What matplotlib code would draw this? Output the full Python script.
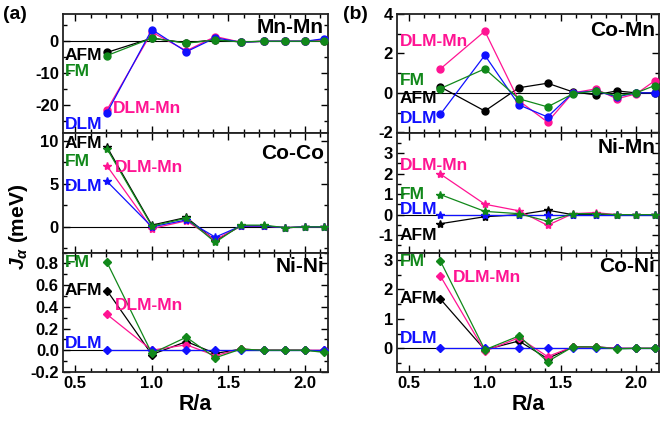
import numpy as np
import matplotlib
matplotlib.use('Agg')
import matplotlib.pyplot as plt
from matplotlib.ticker import MultipleLocator, FormatStrFormatter

plt.rcParams['font.family'] = ['Liberation Sans', 'DejaVu Sans']
plt.rcParams['font.weight'] = 'bold'
plt.rcParams['axes.unicode_minus'] = False
plt.rcParams['mathtext.fontset'] = 'custom'
plt.rcParams['mathtext.it'] = 'Liberation Sans:italic:bold'
plt.rcParams['mathtext.rm'] = 'Liberation Sans:bold'

# shell distances R/a
r = [0.707, 1.0, 1.225, 1.414, 1.581, 1.732, 1.871, 2.0, 2.121]

# J values (meV) per pair and configuration
mnmn_afm = [-3.5, 1.0, -0.5, 0.5, -0.2, 0.0, 0.0, 0.0, 0.0]
mnmn_fm = [-4.5, 1.0, -0.6, 0.4, -0.2, 0.0, 0.0, 0.0, 0.0]
mnmn_dlmmn = [-21.6, 2.9, -3.0, 1.5, -0.3, 0.0, 0.0, 0.0, 0.5]
mnmn_dlm = [-22.5, 3.7, -3.3, 1.1, -0.3, 0.0, 0.0, 0.0, 0.8]

coco_afm = [9.3, 0.2, 1.1, -1.6, 0.1, 0.1, -0.1, 0.0, 0.0]
coco_fm = [9.1, 0.1, 1.0, -1.8, 0.2, 0.2, -0.1, 0.0, 0.0]
coco_dlmmn = [7.1, -0.2, 0.7, -1.5, 0.1, 0.1, -0.1, 0.0, 0.0]
coco_dlm = [5.3, 0.0, 0.8, -1.2, 0.1, 0.1, -0.1, 0.0, 0.0]

nini_afm = [0.55, -0.04, 0.08, -0.03, 0.01, 0.0, 0.0, 0.0, -0.01]
nini_fm = [0.81, -0.03, 0.12, -0.07, 0.01, 0.0, 0.0, 0.0, -0.02]
nini_dlmmn = [0.33, 0.0, 0.05, -0.05, 0.01, 0.0, 0.0, 0.0, 0.0]
nini_dlm = [0.0, 0.0, 0.0, 0.0, 0.0, 0.0, 0.0, 0.0, 0.0]

comn_afm = [0.3, -0.92, 0.26, 0.49, 0.05, -0.1, 0.1, 0.0, 0.0]
comn_fm = [0.22, 1.22, -0.3, -0.71, -0.05, 0.1, -0.15, 0.0, 0.37]
comn_dlmmn = [1.22, 3.13, -0.4, -1.48, 0.0, 0.2, -0.3, -0.05, 0.61]
comn_dlm = [-1.08, 1.91, -0.61, -1.22, 0.0, 0.1, -0.2, 0.0, 0.0]

nimn_afm = [-0.44, -0.1, 0.0, 0.22, 0.0, 0.0, 0.0, 0.0, 0.0]
nimn_fm = [0.98, 0.16, 0.05, -0.32, 0.05, 0.05, 0.0, 0.0, 0.0]
nimn_dlmmn = [1.98, 0.51, 0.19, -0.52, 0.05, 0.1, 0.0, 0.0, 0.0]
nimn_dlm = [0.0, 0.0, 0.0, 0.0, 0.0, 0.0, 0.0, 0.0, 0.0]

coni_afm = [1.67, -0.05, 0.25, -0.35, 0.05, 0.05, 0.0, 0.0, 0.0]
coni_fm = [2.96, -0.05, 0.42, -0.45, 0.05, 0.05, -0.02, 0.0, 0.0]
coni_dlmmn = [2.45, -0.1, 0.36, -0.28, 0.05, 0.05, 0.0, 0.0, 0.0]
coni_dlm = [0.0, 0.0, 0.0, 0.0, 0.0, 0.0, 0.0, 0.0, 0.0]

c_afm = 'black'
c_fm = '#11881a'
c_dlmmn = '#ff1493'
c_dlm = '#1010ff'

fig = plt.figure(figsize=(6.6, 4.29), dpi=100)

H = 119.3 / 429.
bottoms = [1 - 14/429. - H, 1 - 14/429. - 2*H, 1 - 14/429. - 3*H]

def panel(x0, w, row, data, marker, ms, title, ylim, major, minor, labels, title_y=0.93):
    ax = fig.add_axes([x0, bottoms[row], w, H])
    ax.axhline(0, color='black', lw=0.8, zorder=1)
    afm, fm, dlmmn, dlm = data
    ax.plot(r, afm, '-', marker=marker, color=c_afm, ms=ms, lw=0.9, zorder=3)
    ax.plot(r, dlmmn, '-', marker=marker, color=c_dlmmn, ms=ms, lw=0.9, zorder=3)
    ax.plot(r, dlm, '-', marker=marker, color=c_dlm, ms=ms, lw=0.9, zorder=3)
    ax.plot(r, fm, '-', marker=marker, color=c_fm, ms=ms, lw=0.9, zorder=4)
    ax.set_xlim(0.42, 2.15)
    ax.set_ylim(*ylim)
    ax.xaxis.set_major_locator(MultipleLocator(0.5))
    ax.xaxis.set_minor_locator(MultipleLocator(0.1))
    ax.yaxis.set_major_locator(MultipleLocator(major))
    ax.yaxis.set_minor_locator(MultipleLocator(minor))
    ax.tick_params(which='both', direction='in', top=True, right=True, labelsize=12, width=1, pad=3)
    ax.tick_params(which='major', length=5)
    ax.tick_params(which='minor', length=3)
    for s in ax.spines.values():
        s.set_linewidth(1.3)
        s.set_color('#222222')
    if row < 2:
        ax.tick_params(labelbottom=False)
    else:
        ax.set_xlabel('R/a', fontsize=15.5, fontweight='bold', labelpad=2)
        ax.xaxis.set_major_formatter(FormatStrFormatter('%.1f'))
    ax.text(0.985, title_y, title, transform=ax.transAxes, ha='right', va='top',
            fontsize=15, fontweight='bold')
    cols = {'AFM': c_afm, 'FM': c_fm, 'DLM-Mn': c_dlmmn, 'DLM': c_dlm}
    for name, (x, y) in labels.items():
        ax.text(x, y, name, color=cols[name], fontsize=12.5, fontweight='bold',
                ha='left', va='center', zorder=5)
    return ax

lx = 0.0955
lw = 0.4015
rx = 0.6015
rw = 0.397

ax1 = panel(lx, lw, 0, (mnmn_afm, mnmn_fm, mnmn_dlmmn, mnmn_dlm), 'o', 5, 'Mn-Mn',
            (-29, 8.6), 10, 5,
            {'AFM': (0.43, -4.5), 'FM': (0.43, -9.5), 'DLM-Mn': (0.745, -21.2), 'DLM': (0.43, -26.3)},
            title_y=0.97)
ax2 = panel(lx, lw, 1, (coco_afm, coco_fm, coco_dlmmn, coco_dlm), '*', 6, 'Co-Co',
            (-3.0, 10.9), 5, 2.5,
            {'AFM': (0.43, 9.7), 'FM': (0.43, 7.6), 'DLM-Mn': (0.757, 6.9), 'DLM': (0.43, 4.7)},
            title_y=0.91)
ax3 = panel(lx, lw, 2, (nini_afm, nini_fm, nini_dlmmn, nini_dlm), 'D', 4, 'Ni-Ni',
            (-0.2, 0.9), 0.2, 0.1,
            {'AFM': (0.43, 0.55), 'FM': (0.43, 0.81), 'DLM-Mn': (0.757, 0.41), 'DLM': (0.43, 0.06)},
            title_y=0.96)
ax3.yaxis.set_major_formatter(FormatStrFormatter('%.1f'))

ax4 = panel(rx, rw, 0, (comn_afm, comn_fm, comn_dlmmn, comn_dlm), 'o', 5, 'Co-Mn',
            (-2.05, 4.0), 2, 1,
            {'AFM': (0.44, -0.28), 'FM': (0.44, 0.62), 'DLM-Mn': (0.44, 2.6), 'DLM': (0.44, -1.3)},
            title_y=0.94)
ax5 = panel(rx, rw, 1, (nimn_afm, nimn_fm, nimn_dlmmn, nimn_dlm), '*', 6, 'Ni-Mn',
            (-1.85, 3.97), 1, 0.5,
            {'AFM': (0.44, -1.0), 'FM': (0.44, 0.98), 'DLM-Mn': (0.44, 2.38), 'DLM': (0.44, 0.27)},
            title_y=0.96)
ax6 = panel(rx, rw, 2, (coni_afm, coni_fm, coni_dlmmn, coni_dlm), 'D', 4, 'Co-Ni',
            (-0.8, 3.25), 1, 0.5,
            {'AFM': (0.44, 1.7), 'FM': (0.44, 2.95), 'DLM-Mn': (0.79, 2.39), 'DLM': (0.44, 0.32)},
            title_y=0.96)

fig.text(0.005, 0.985, '(a)', fontsize=14, fontweight='bold', va='top', ha='left')
fig.text(0.52, 0.985, '(b)', fontsize=14, fontweight='bold', va='top', ha='left')
fig.text(0.028, 0.47, r'$J_\alpha$ (meV)', rotation=90, fontsize=15, fontweight='bold',
         va='center', ha='center')

fig.savefig('out.png', dpi=100)
